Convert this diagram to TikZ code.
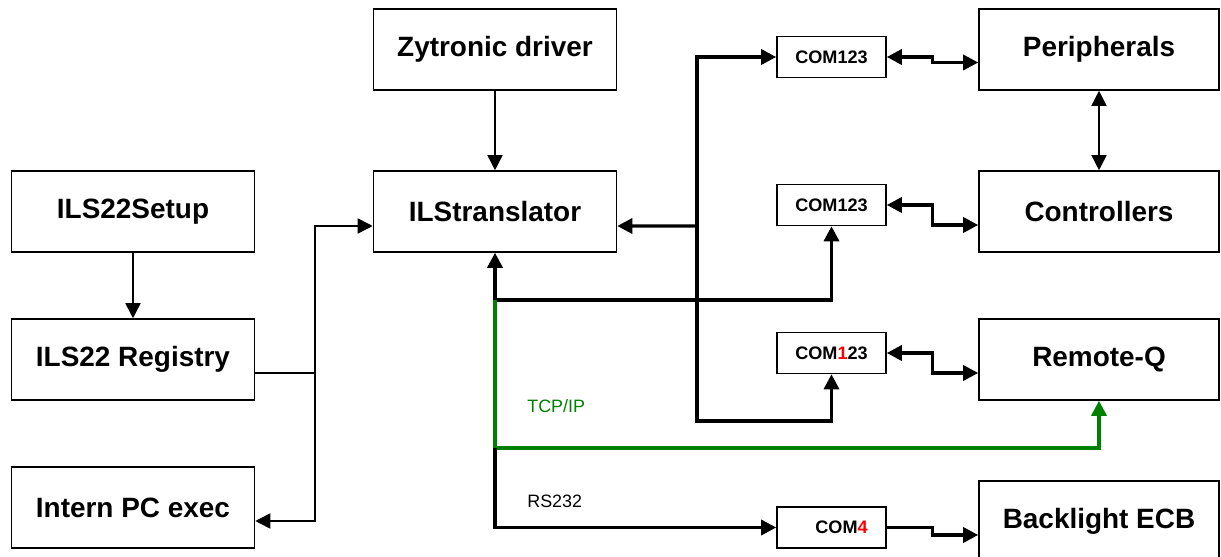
\documentclass[tikz,border=0pt]{standalone}
\usepackage{fontspec}
\setmainfont{Liberation Sans}
\usetikzlibrary{arrows.meta}
\definecolor{tcpgreen}{RGB}{0,128,0}
\begin{document}
\begin{tikzpicture}[x=0.02cm,y=-0.02cm,>={Triangle[length=0.3cm,width=0.3cm]},
    box/.style={draw,line width=0.9pt,minimum width=4.86cm,minimum height=1.62cm,inner sep=0pt,
      font=\fontsize{15.9}{19}\selectfont\bfseries},
    combox/.style={draw,line width=0.9pt,minimum width=2.18cm,minimum height=0.82cm,inner sep=0pt,
      font=\fontsize{10.3}{12}\selectfont\bfseries},
    lbl/.style={anchor=west,inner sep=0pt,font=\fontsize{10.2}{12}\selectfont},
    wire/.style={line width=0.9pt},
    bus/.style={line width=1.9pt},
    tcp/.style={line width=1.9pt,draw=tcpgreen}]
\useasboundingbox (0,0) rectangle (1221,557);
% left column
\node[box] (setup) at (133,211.5) {ILS22Setup};
\node[box] (registry) at (133,359.5) {ILS22 Registry};
\node[box] (intern) at (133,507.5) {Intern PC exec};
% middle column
\node[box] (zyt) at (495,49.5) {Zytronic driver};
\node[box] (ils) at (495,211.5) {ILStranslator};
% com ports
\node[combox] (com1) at (831.5,57) {COM123};
\node[combox] (com2) at (831.5,205) {COM123};
\node[combox] (com3) at (831.5,353) {COM\textcolor{red}{1}23};
\node[combox] (com4) at (831.5,527.5) {\hspace*{0.4cm}COM\textcolor{red}{4}};
% right column
\node[box,minimum width=4.8cm] (peri) at (1099,49.5) {Peripherals};
\node[box,minimum width=4.8cm] (ctrl) at (1099,211.5) {Controllers};
\node[box,minimum width=4.8cm] (remq) at (1099,359.5) {Remote-Q};
\node[box,minimum width=4.8cm] (ecb) at (1099,521.5) {Backlight ECB};
% labels
\node[lbl,text=tcpgreen] (tcplbl) at (527,406) {TCP/IP};
\node[lbl] (rslbl) at (527,501) {RS232};
% junctions
\coordinate (j1) at (315,373);
\coordinate (b1) at (697,226);
\coordinate (b2) at (697,421);
\coordinate (t1) at (495,300);
\coordinate (t2) at (495,448);
% thin connectors
\draw[wire,->] (zyt) -- (ils);
\draw[wire,->] (setup) -- (registry);
\draw[wire,<->] (peri.south) -- (ctrl.north);
\draw[wire] (j1 -| registry.east) -- (j1);
\draw[wire,->] (j1) |- ([yshift=-0.29cm]ils.west);
\draw[wire,->] (j1) |- ([yshift=-0.27cm]intern.east);
% serial bus
\draw[bus,<-] ([yshift=-0.29cm]ils.east) -- (b1);
\draw[bus,->] (b1) |- (com1.west);
\draw[bus,->] (b1) -- (b2) -| (com3.south);
\draw[bus,<->] (ils.south) -- (t1) -| (com2.south);
\draw[tcp,->] (t1) -- (t2) -| (remq.south);
\draw[bus,->] (t2) |- (com4.west);
% com to devices
\draw[bus,<->] (com1.east) -- ++(46,0) |- ([yshift=-0.26cm]peri.west);
\draw[bus,<->] (com2.east) -- ++(46,0) |- ([yshift=-0.27cm]ctrl.west);
\draw[bus,<->] (com3.east) -- ++(46,0) |- ([yshift=-0.27cm]remq.west);
\draw[bus,->] (com4.east) -- ++(46,0) |- ([yshift=-0.27cm]ecb.west);
\end{tikzpicture}
\end{document}
